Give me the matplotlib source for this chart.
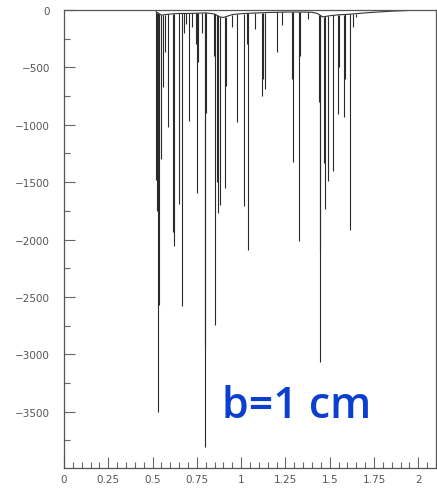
import numpy as np
import matplotlib
matplotlib.use("Agg")
import matplotlib.pyplot as plt
from matplotlib.ticker import MultipleLocator, FuncFormatter

# smooth part of the curve (between the dips)
base_x = [0.52, 0.55, 0.60, 0.65, 0.70, 0.75, 0.80, 0.85, 0.88, 0.90, 0.95, 1.00,
          1.05, 1.10, 1.15, 1.20, 1.25, 1.30, 1.35, 1.40, 1.43, 1.46, 1.50, 1.55,
          1.60, 1.65, 1.70, 1.75, 1.80, 1.85, 1.90, 1.95, 2.00]
base_y = [-15, -45, -35, -30, -30, -28, -25, -35, -60, -65, -40, -32,
          -28, -25, -22, -20, -18, -18, -18, -20, -30, -60, -50, -42,
          -38, -32, -25, -20, -15, -10, -7, -4, -2]

# resonance dips: position and depth
dip_x = [0.522, 0.527, 0.533, 0.537, 0.545, 0.561, 0.570, 0.589, 0.617, 0.622,
         0.652, 0.667, 0.680, 0.690, 0.703, 0.720, 0.745, 0.750, 0.754, 0.780,
         0.795, 0.797, 0.799, 0.845, 0.853, 0.865, 0.872, 0.878, 0.910, 0.915,
         0.950, 0.976, 1.017, 1.032, 1.041, 1.080, 1.120, 1.125, 1.136, 1.202,
         1.230, 1.286, 1.290, 1.329, 1.333, 1.375, 1.440, 1.444, 1.447, 1.466,
         1.474, 1.490, 1.520, 1.544, 1.550, 1.578, 1.585, 1.612, 1.630, 1.650]
dip_y = [-1480, -1750, -3500, -2570, -1300, -675, -370, -1020, -1930, -2060,
         -1694, -2582, -200, -120, -967, -150, -300, -1592, -455, -200,
         -3805, -2917, -893, -400, -2742, -1500, -1765, -1700, -1547, -661,
         -150, -980, -1709, -300, -2087, -166, -748, -600, -690, -370,
         -130, -603, -1320, -2015, -400, -80, -800, -2090, -3063, -1330,
         -1738, -1490, -1403, -908, -500, -936, -600, -1913, -150, -60]

fig = plt.figure(figsize=(4.37, 4.89), dpi=100)
ax = fig.add_axes([64 / 437, 20 / 489, 372 / 437, 458 / 489])

ax.plot(base_x, base_y, color="#333333", lw=0.8)
tops = np.interp(dip_x, base_x, base_y)
ax.vlines(dip_x, dip_y, tops, color="#2a2a2a", lw=0.8)

ax.set_xlim(0, 2.1)
ax.set_ylim(-3990, 0)

ax.xaxis.set_major_locator(MultipleLocator(0.25))
ax.xaxis.set_minor_locator(MultipleLocator(0.05))
ax.yaxis.set_major_locator(MultipleLocator(500))
ax.yaxis.set_minor_locator(MultipleLocator(250))
ax.xaxis.set_major_formatter(FuncFormatter(lambda v, p: "%g" % v))
ax.yaxis.set_major_formatter(FuncFormatter(lambda v, p: "%g" % v if v >= 0 else "\u2212%g" % -v))

ax.tick_params(which="both", direction="in", top=False, right=False,
               color="#666666", labelcolor="#555555", labelsize=7.5)
ax.tick_params(which="major", length=8, width=0.8)
ax.tick_params(which="minor", length=4, width=0.8)
ax.tick_params(axis="y", pad=10)
ax.tick_params(axis="x", pad=4)
for s in ax.spines.values():
    s.set_color("#555555")
    s.set_linewidth(0.9)

ax.text(0.893, -3545, "b=1 cm", color="#0a3fd0", fontsize=31,
        family="Open Sans", fontweight="semibold", ha="left", va="baseline")

fig.savefig("out.png", dpi=100)
